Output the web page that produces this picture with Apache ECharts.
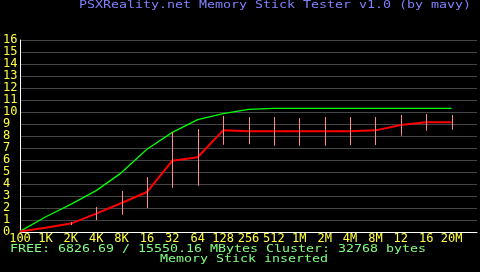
<!DOCTYPE html>
<html><head><meta charset="utf-8">
<script src="https://cdn.jsdelivr.net/npm/echarts@6/dist/echarts.min.js"></script>
<style>html,body{margin:0;padding:0;background:#000;}#c{width:480px;height:272px;}</style>
</head><body><div id="c"></div>
<script>
const categories = ['100','1K','2K','4K','8K','16','32','64','128','256','512','1M','2M','4M','8M','12','16','20M'];
const yTicks = [0,1,2,3,4,5,6,7,8,9,10,11,12,13,14,15,16];
const maxSpeed = [0.05,1.25,2.3,3.45,4.95,6.9,8.3,9.36,9.86,10.22,10.3,10.3,10.3,10.3,10.3,10.3,10.3,10.3];
const avgSpeed = [0.05,0.36,0.7,1.53,2.42,3.33,5.94,6.23,8.47,8.39,8.39,8.39,8.39,8.39,8.47,8.92,9.14,9.14];
const errIndex = [2,3,4,5,6,7,8,9,10,11,12,13,14,15,16,17];
const errLow  = [0.58,1.0,1.45,2.0,3.68,3.85,7.27,7.31,7.19,7.19,7.19,7.25,7.25,8.03,8.44,8.53];
const errHigh = [0.83,2.08,3.43,4.58,8.31,8.58,9.68,9.58,9.58,9.5,9.58,9.58,9.58,9.75,9.83,9.75];
const titleText = 'PSXReality.net Memory Stick Tester v1.0 (by mavy)';
const freeText = 'FREE: 6826.69 / 15550.16 MBytes Cluster: 32768 bytes';
const statusText = 'Memory Stick inserted';

const FONT = '"DejaVu Sans Mono", monospace';
const chart = echarts.init(document.getElementById('c'), null, {renderer:'canvas'});
const sx = 8 / 6.02;
function label(text, x, y, color) {
  return {type:'text', x:x, y:y, scaleX:sx, scaleY:1,
    style:{text:text, fill:color, font:'10px ' + FONT, verticalAlign:'middle', align:'left'}};
}
chart.setOption({
  backgroundColor:'#000',
  animation:false,
  grid:{left:17, right:0, top:40, bottom:40, containLabel:false},
  xAxis:{type:'value', min:0, max:18, interval:1,
    axisLine:{show:true, lineStyle:{color:'#fff', width:1}},
    axisTick:{show:false}, splitLine:{show:false},
    axisLabel:{color:'#ffff40', fontFamily:FONT, fontSize:12, margin:1,
      showMinLabel:true, showMaxLabel:true,
      formatter:function(v){ return categories[v] !== undefined ? categories[v] : ''; }}},
  yAxis:{type:'value', min:0, max:16, interval:1,
    axisLine:{show:true, lineStyle:{color:'#fff', width:1}},
    axisTick:{show:false},
    splitLine:{show:true, lineStyle:{color:'#444', width:1}},
    axisLabel:{color:'#ffff40', fontFamily:FONT, fontSize:12, align:'left', margin:17,
      formatter:function(v){ return yTicks.indexOf(v) >= 0 ? String(v) : ''; }}},
  series:[
    {type:'line', data:maxSpeed.map((v,i)=>[i,v]), symbol:'none',
      lineStyle:{color:'#00ff00', width:1.3}, z:3},
    {type:'line', data:avgSpeed.map((v,i)=>[i,v]), symbol:'none',
      lineStyle:{color:'#ff0000', width:2}, z:4},
    {type:'custom', z:5,
      data:errIndex.map((x,i)=>[x, errLow[i], errHigh[i]]),
      renderItem:function(params, api){
        const p1 = api.coord([api.value(0), api.value(1)]);
        const p2 = api.coord([api.value(0), api.value(2)]);
        const x = Math.round(p1[0]) + 0.5;
        return {type:'line', shape:{x1:x, y1:p1[1], x2:x, y2:p2[1]},
          style:{stroke:'#ff8a8a', lineWidth:1}};
      }}
  ],
  graphic:[
    label(titleText, 79, 5, '#8080ff'),
    label(freeText, 10, 249, '#80ff80'),
    label(statusText, 160, 259, '#80ff80')
  ]
});
</script></body></html>
